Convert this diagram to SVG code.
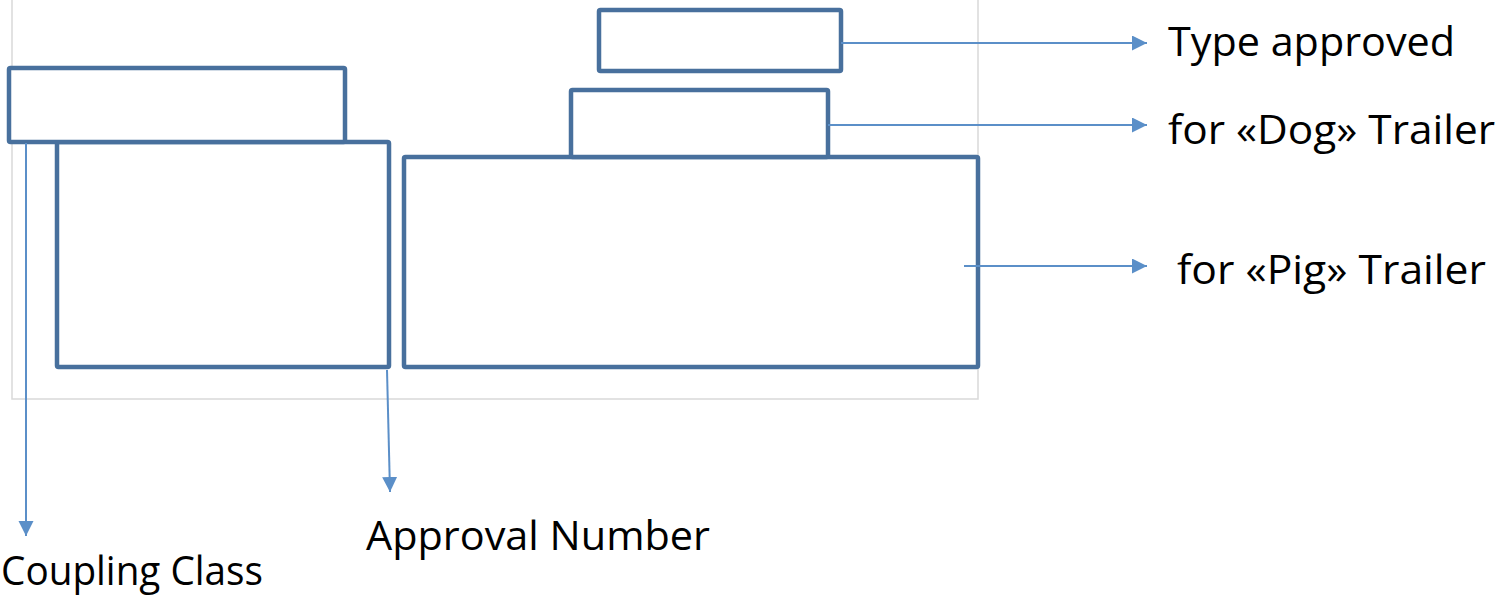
<svg xmlns="http://www.w3.org/2000/svg" width="1504" height="599" viewBox="0 0 1504 599">
  <style>
    .box { fill: #ffffff; stroke: #48709D; stroke-width: 4.5; }
    .frame { fill: none; stroke: #D9D9D9; stroke-width: 1.5; }
    .conn { fill: none; stroke: #5B8FC8; stroke-width: 2; }
    .lbl { font-family: "Open Sans", "Liberation Sans", sans-serif; font-size: 41px; fill: #000000; }
  </style>
  <defs>
    <marker id="arrow" markerUnits="userSpaceOnUse" markerWidth="16" markerHeight="16" refX="15" refY="7.5" orient="auto">
      <path d="M0,0 L15,7.5 L0,15 Z" fill="#5B8FC8"/>
    </marker>
  </defs>
  <rect width="1504" height="599" fill="#ffffff"/>
  <rect class="frame" x="12" y="-5" width="966" height="404"/>

  <g id="node-pig">
    <rect class="box" x="404" y="157" width="574" height="210" rx="1.5"/>
  </g>
  <g id="node-dog">
    <rect class="box" x="571" y="90" width="257" height="67" rx="1.5"/>
  </g>
  <g id="node-type">
    <rect class="box" x="599" y="10" width="242" height="61" rx="1.5"/>
  </g>
  <g id="node-approval">
    <rect class="box" x="57" y="142" width="332" height="225" rx="1.5"/>
  </g>
  <g id="node-coupling">
    <rect class="box" x="9" y="68" width="336" height="74" rx="1.5"/>
  </g>

  <g id="connectors">
    <line class="conn" x1="841" y1="43" x2="1147" y2="43" marker-end="url(#arrow)"/>
    <line class="conn" x1="828" y1="125" x2="1147" y2="125" marker-end="url(#arrow)"/>
    <line class="conn" x1="964" y1="266" x2="1147" y2="266" marker-end="url(#arrow)"/>
    <line class="conn" x1="26" y1="143" x2="26" y2="536" marker-end="url(#arrow)"/>
    <line class="conn" x1="387" y1="370" x2="390" y2="492" marker-end="url(#arrow)"/>
  </g>

  <g id="labels">
    <text class="lbl" x="1168" y="56" textLength="287" lengthAdjust="spacingAndGlyphs">Type approved</text>
    <text class="lbl" x="1168" y="144" textLength="327" lengthAdjust="spacingAndGlyphs">for «Dog» Trailer</text>
    <text class="lbl" x="1177" y="284" textLength="309" lengthAdjust="spacingAndGlyphs">for «Pig» Trailer</text>
    <text class="lbl" x="366" y="550" textLength="344" lengthAdjust="spacingAndGlyphs">Approval Number</text>
    <text class="lbl" x="1" y="585" textLength="262" lengthAdjust="spacingAndGlyphs">Coupling Class</text>
  </g>
</svg>
